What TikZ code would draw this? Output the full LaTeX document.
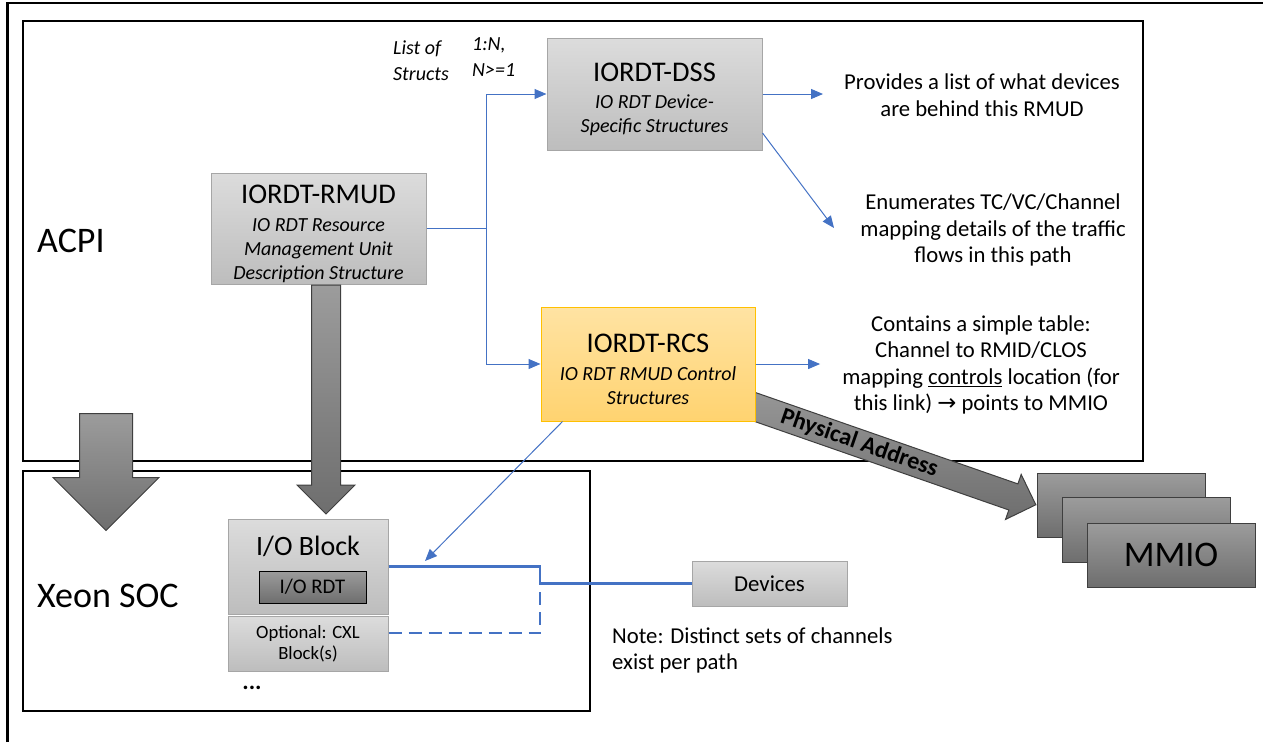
\documentclass[tikz,border=0pt]{standalone}
\usepackage{fontspec}
\setmainfont{Carlito}
\newfontfamily\arrfont{DejaVu Sans}
\usepackage{tikz}
\usetikzlibrary{shapes.arrows, arrows.meta}
\definecolor{RDTBlue}{HTML}{4472C4}
\definecolor{BoxTop}{HTML}{DCDCDC}
\definecolor{BoxBot}{HTML}{BDBDBD}
\definecolor{BoxLine}{HTML}{A6A6A6}
\definecolor{RcsTop}{HTML}{FFE3A3}
\definecolor{RcsBot}{HTML}{FFD370}
\definecolor{RcsLine}{HTML}{FFC000}
\definecolor{DarkTop}{HTML}{9C9C9C}
\definecolor{DarkBot}{HTML}{6E6E6E}
\definecolor{DarkLine}{HTML}{3F3F3F}
\newcommand\boxtitle{\fontsize{28.5}{31}\selectfont\upshape\rule{0pt}{29pt}}
\newcommand\boxsub{\fontsize{20}{24}\selectfont\itshape}
\newcommand\desctext{\fontsize{22.7}{26.5}\selectfont}

\begin{document}
\begin{tikzpicture}[x=1pt, y=-1pt,
    gbox/.style={rectangle, draw=BoxLine, line width=1pt, top color=BoxTop,
                 bottom color=BoxBot, inner sep=0pt, align=center},
    rcsbox/.style={rectangle, draw=RcsLine, line width=1pt, top color=RcsTop,
                   bottom color=RcsBot, inner sep=0pt, align=center},
    darkbox/.style={rectangle, draw=DarkLine, line width=1pt, top color=DarkTop,
                    bottom color=DarkBot, inner sep=0pt},
    fatarrow/.style={single arrow, draw=DarkLine, line width=1pt, top color=DarkTop,
                     bottom color=DarkBot, inner sep=0pt},
    frame/.style={draw=black, line width=2.2pt},
    region/.style={font=\fontsize{36}{40}\selectfont, inner sep=0pt, anchor=west},
    desc/.style={font=\desctext, align=center, inner sep=0pt},
    link/.style={RDTBlue, line width=1pt, -{Triangle[length=12pt,width=10pt]}},
    chan/.style={RDTBlue, line width=2.4pt}
  ]
  \useasboundingbox (0,0) rectangle (1263,742);
  \draw[line width=2.5pt] (7.5,742) -- (7.5,3) -- (1263,3);

  % ACPI and SOC regions
  \draw[frame] (23,21) rectangle (1143,461);
  \draw[frame] (23,471) rectangle (590,711);
  \node[region] (acpi) at (37,241) {ACPI};
  \node[region] (soc) at (37,596) {Xeon SOC};

  % ACPI structures
  \node[gbox, minimum width=215pt, minimum height=112pt, font=\boxsub] (dss)
        at (654.5,94) {{\boxtitle IORDT-DSS}\\[3.5pt]IO RDT Device-\\Specific Structures};
  \node[gbox, minimum width=215pt, minimum height=111pt, font=\boxsub] (rmud)
        at (318.5,228.5) {{\boxtitle IORDT-RMUD}\\[3.5pt]IO RDT Resource\\Management Unit\\Description Structure};

  \node[desc, font=\fontsize{20}{26}\selectfont\itshape, align=left, anchor=west]
        (lst) at (393,61) {List of\\Structs};
  \node[desc, font=\fontsize{20}{26}\selectfont\itshape, align=left, anchor=west]
        (card) at (472,57) {1:N,\\N>=1};

  \node[desc] (dsstxt) at (982,95) {Provides a list of what devices\\are behind this RMUD};
  \node[desc] (flowtxt) at (993,230) {Enumerates TC/VC/Channel\\mapping details of the traffic\\flows in this path};
  \node[desc] (rcstxt) at (981,365) {Contains a simple table:\\Channel to RMID/CLOS\\mapping \underline{controls} location (for\\this link) {\arrfont →} points to MMIO};

  % SOC side
  \node[gbox, minimum width=160pt, minimum height=95pt] (iob) at (308,566.5) {};
  \node[font=\fontsize{28}{30}\selectfont, inner sep=0pt] (ioblbl) at (308,546) {I/O Block};
  \node[darkbox, draw=black, minimum width=107pt, minimum height=32pt,
        font=\fontsize{20.8}{24}\selectfont] (rdt) at (312.5,587) {I/O RDT};
  \node[gbox, minimum width=160pt, minimum height=55pt,
        font=\fontsize{18.7}{21}\selectfont] (cxl) at (308,643.5) {Optional: CXL\\Block(s)};
  \node[font=\fontsize{24}{26}\selectfont\bfseries, inner sep=0pt] (more) at (252,688) {...};

  \node[gbox, minimum width=155pt, minimum height=45pt,
        font=\fontsize{22.8}{26}\selectfont] (dev) at (769.5,583.5) {Devices};
  \node[desc, align=left, anchor=west] (note) at (612,650.5)
        {Note: Distinct sets of channels\\exist per path};

  \node[darkbox, minimum width=168pt, minimum height=64pt] (mm1) at (1121,505) {};
  \node[darkbox, minimum width=168pt, minimum height=65pt] (mm2) at (1146,529.5) {};
  \node[darkbox, minimum width=168pt, minimum height=64pt,
        font=\fontsize{36}{40}\selectfont] (mm3) at (1171,555) {MMIO};

  % fat arrows
  \node[fatarrow, minimum height=117pt, inner ysep=26pt,
        single arrow head extend=26.5pt, rotate=-90, anchor=tail] (socarr) at (106,413) {};
  \node[fatarrow, minimum height=229pt, inner ysep=14pt,
        single arrow head extend=14.5pt, rotate=-90, anchor=tail] (rmudarr)
        at ([xshift=7.5pt]rmud.south) {};
  \node[fatarrow, font=\fontsize{24}{26}\selectfont\bfseries, minimum height=360pt,
        inner ysep=3pt, inner xsep=4pt, single arrow head extend=10pt,
        rotate=-19.2, anchor=tip] (phys) at (mm1.west) {Physical Address};

  \node[rcsbox, minimum width=214pt, minimum height=114pt, font=\boxsub] (rcs)
        at (648,364) {{\boxtitle IORDT-RCS}\\[3.5pt]IO RDT RMUD Control\\Structures};

  % connectors
  \coordinate (fork) at (486,228.5);
  \draw[link] (rmud.east) -- (fork) |- (dss.west);
  \draw[link] (fork) |- (rcs.west);
  \draw[link, shorten >=21pt] (dss.east) -- (dss.east -| dsstxt.west);
  \coordinate (flowtip) at (834,228);
  \draw[link] ([yshift=-39pt]dss.east) -- (flowtip);
  \draw[link, shorten >=22pt] (rcs.east) -- (rcs.east -| rcstxt.west);
  \coordinate (iotip) at (425,561);
  \draw[link] ([xshift=22pt]rcs.south west) -- (iotip);

  \coordinate (jn) at (540,583.5);
  \draw[chan] (iob.east) -| (jn) -- (dev.west);
  \draw[chan, dash pattern=on 13pt off 7pt] ([yshift=10.5pt]cxl.east) -| (jn) -- (dev.west);
\end{tikzpicture}
\end{document}
